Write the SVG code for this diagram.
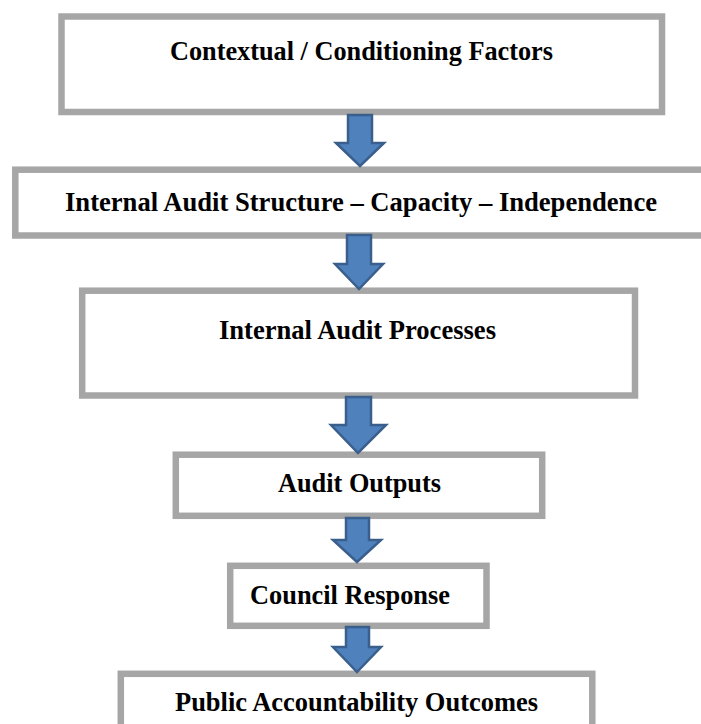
<svg xmlns="http://www.w3.org/2000/svg" width="701" height="724" viewBox="0 0 701 724">
<style>
.box{fill:#ffffff;stroke:#a6a6a6;stroke-width:6.5}
.lbl{font-family:"Liberation Serif","Times New Roman",serif;font-weight:bold;font-size:26.5px;fill:#000000}
.arr{fill:#4f81bd;stroke:#3a5f8c;stroke-width:2.5;stroke-linejoin:miter}
</style>
<rect width="701" height="724" fill="#ffffff"/>
<g id="n1"><rect class="box" x="61.5" y="16.5" width="600.5" height="95.5"/><text class="lbl" x="170" y="60" textLength="383" lengthAdjust="spacingAndGlyphs">Contextual / Conditioning Factors</text></g>
<g id="n2"><rect class="box" x="15.3" y="169.7" width="700" height="65.8"/><text class="lbl" x="65" y="211" textLength="592" lengthAdjust="spacingAndGlyphs">Internal Audit Structure – Capacity – Independence</text></g>
<g id="n3"><rect class="box" x="82.2" y="290.7" width="552.8" height="104.8"/><text class="lbl" x="219" y="339" textLength="277" lengthAdjust="spacingAndGlyphs">Internal  Audit  Processes</text></g>
<g id="n4"><rect class="box" x="175.8" y="454.7" width="366.4" height="61.1"/><text class="lbl" x="278" y="492" textLength="163" lengthAdjust="spacingAndGlyphs">Audit Outputs</text></g>
<g id="n5"><rect class="box" x="230.2" y="565.8" width="256.3" height="60"/><text class="lbl" x="250" y="604" textLength="200" lengthAdjust="spacingAndGlyphs">Council Response</text></g>
<g id="n6"><rect class="box" x="120.8" y="673.8" width="471.5" height="70"/><text class="lbl" x="175" y="711" textLength="363" lengthAdjust="spacingAndGlyphs">Public Accountability Outcomes</text></g>
<g id="connectors">
<path class="arr" d="M348,115 H372 V143 H384 L360,166 L336,143 H348 Z"/>
<path class="arr" d="M347,235 H371 V264 H383 L359,289 L335,264 H347 Z"/>
<path class="arr" d="M346,397 H371 V425 H386 L358,453 L331,425 H346 Z"/>
<path class="arr" d="M346,518 H369 V540 H381 L357,562 L333,540 H346 Z"/>
<path class="arr" d="M346,627 H369 V647 H381 L357,672 L333,647 H346 Z"/>
</g>
</svg>
